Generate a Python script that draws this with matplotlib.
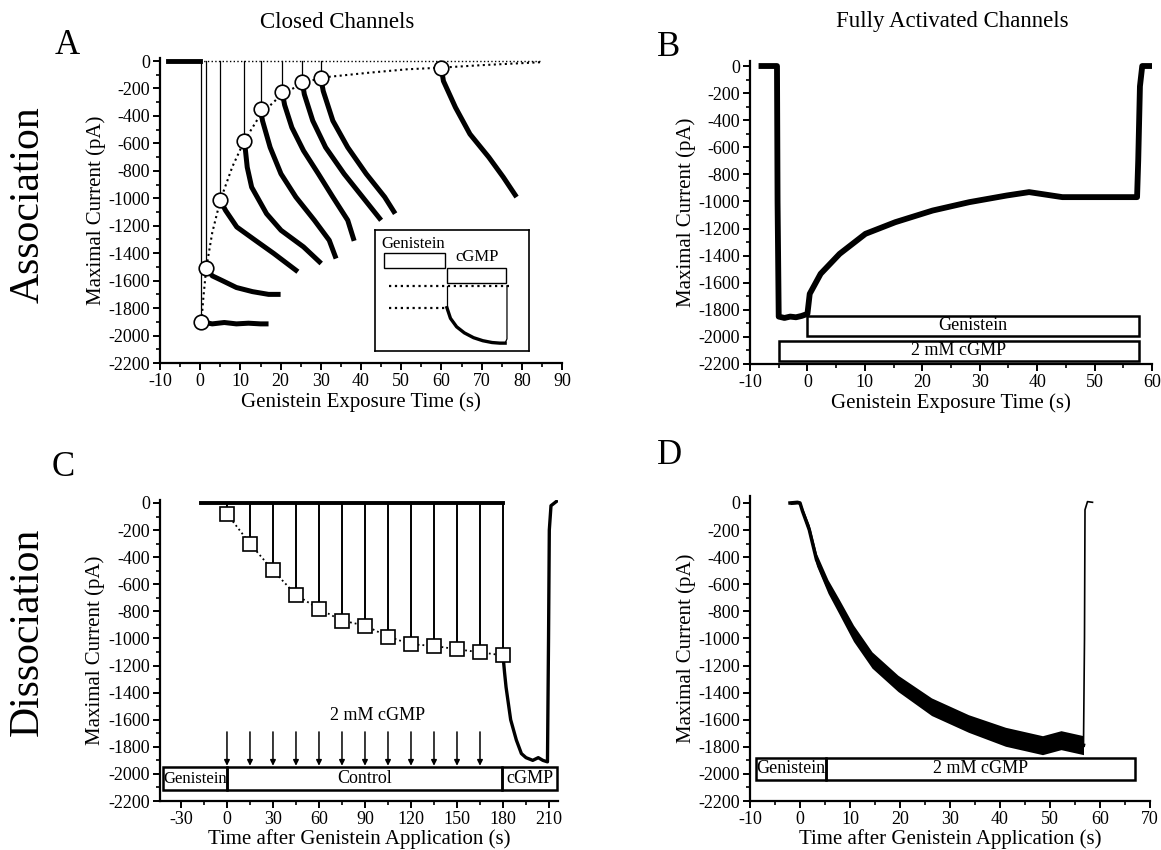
import matplotlib
matplotlib.use("Agg")
import matplotlib.pyplot as plt
from matplotlib.patches import Rectangle
from matplotlib.ticker import MultipleLocator

plt.rcParams['font.family'] = 'serif'
plt.rcParams['font.serif'] = ['Liberation Serif', 'DejaVu Serif']
plt.rcParams['axes.unicode_minus'] = False

W, H = 1161, 850

# ---- Panel A: closed channels, association ----
a_circle_t = [0.3, 1.5, 5, 11, 15, 20.4, 25.4, 30, 60]
a_circle_i = [-1900, -1510, -1015, -580, -350, -228, -152, -121, -53]
a_fit_t = [0.3, 0.8, 1.5, 3, 5, 8, 11, 15, 20.4, 25.4, 30, 42, 51.5, 60, 70, 85]
a_fit_i = [-1900, -1720, -1510, -1250, -1015, -770, -580, -390, -240, -165, -121, -85, -60, -48, -30, -8]
a_traces = [
    ([0.3, 3, 6, 9, 12, 15, 17], [-1900, -1915, -1905, -1915, -1910, -1915, -1915]),
    ([1.5, 3, 5.5, 9, 13, 17, 20], [-1510, -1565, -1600, -1650, -1680, -1700, -1700]),
    ([5, 6.3, 9.1, 13.7, 18.3, 24.3], [-1015, -1088, -1209, -1306, -1402, -1535]),
    ([11, 11.7, 12.8, 16.5, 20.1, 25.7, 30.1], [-580, -774, -919, -1112, -1233, -1354, -1475]),
    ([15, 15.5, 17.4, 20.1, 23.8, 28.4, 32.1, 33.8], [-350, -435, -629, -822, -991, -1160, -1306, -1439]),
    ([20.4, 21, 22.8, 25.7, 29.4, 33, 36.7, 38.3], [-228, -320, -484, -653, -822, -991, -1160, -1310]),
    ([25.4, 25.9, 28, 31.2, 35.8, 40.4, 45], [-152, -242, -435, -629, -822, -991, -1160]),
    ([30, 30.6, 33, 36.7, 41.3, 45.9, 48.5], [-121, -218, -435, -629, -822, -991, -1112]),
    ([60, 60.5, 63.5, 67.1, 71.8, 75.4, 78.7], [-53, -145, -338, -532, -701, -846, -991]),
]
a_base_t = [-8, 0]
a_base_i = [0, 0]
inset_curve_x = [0.467, 0.49, 0.53, 0.58, 0.64, 0.70, 0.76, 0.81, 0.845]
inset_curve_y = [0.358, 0.27, 0.20, 0.15, 0.11, 0.085, 0.07, 0.065, 0.065]

# ---- Panel B: fully activated channels ----
b_t = [-8, -5.3, -5.2, -5, -4, -3, -2, -1, 0, 0.4, 2.3, 5.6, 10.1, 15.3, 21.8,
       28.2, 34.7, 38.6, 44.4, 50.9, 57.4, 57.6, 57.9, 58.3, 60]
b_i = [0, 0, -1000, -1850, -1860, -1850, -1855, -1845, -1830, -1682, -1534, -1387,
       -1239, -1153, -1067, -1005, -956, -931, -968, -968, -968, -700, -150, 0, 0]

# ---- Panel C: dissociation, closed ----
c_sq_t = [0, 15, 30, 45, 60, 75, 90, 105, 120, 135, 150, 165, 180]
c_sq_i = [-80, -300, -498, -678, -782, -868, -905, -986, -1043, -1055, -1080, -1102, -1125]
c_base_t = [-17, 180]
c_base_i = [0, 0]
c_end_t = [180, 181, 182, 185, 188.7, 192, 195, 199.4, 203, 206, 209, 209.7, 210.2, 211.3, 214.9]
c_end_i = [-1125, -1250, -1360, -1600, -1750, -1850, -1880, -1900, -1880, -1900, -1911,
           -1000, -200, -20, 12]
c_arrow_t = [0, 15, 30, 45, 60, 75, 90, 105, 120, 135, 150, 165]

# ---- Panel D: dissociation, activated (mean trace and noise half-width) ----
d_t = [-2, -0.5, 0, 0.5, 1.85, 3.3, 5.6, 7.8, 10.7, 14.4, 19.6, 26.3, 33.7, 41.1,
       48.5, 52.2, 56.7]
d_i = [0, 5, 0, -60, -197, -419, -617, -764, -962, -1159, -1332, -1504, -1628,
       -1726, -1788, -1751, -1788]
d_noise = [12, 12, 12, 25, 35, 45, 50, 55, 60, 60, 60, 65, 65, 70, 70, 70, 70]
d_jump_t = [56.7, 56.9, 57.0, 57.5, 58.5]
d_jump_i = [-1788, -1000, -50, 10, 5]


def rect(x0, x1, ytop, ybot):
    return [x0 / W, 1 - ybot / H, (x1 - x0) / W, (ybot - ytop) / H]


def style(ax, xlim, ylim, xmaj, xmin):
    ax.set_xlim(*xlim)
    ax.set_ylim(*ylim)
    for s in ['top', 'right']:
        ax.spines[s].set_visible(False)
    for s in ['left', 'bottom']:
        ax.spines[s].set_linewidth(1.6)
    ax.xaxis.set_major_locator(MultipleLocator(xmaj))
    ax.xaxis.set_minor_locator(MultipleLocator(xmin))
    ax.yaxis.set_major_locator(MultipleLocator(200))
    ax.yaxis.set_minor_locator(MultipleLocator(100))
    ax.tick_params(which='major', direction='out', length=5, width=1.4, labelsize=13, pad=2)
    ax.tick_params(which='minor', direction='out', length=3, width=1.2)
    ax.set_ylabel('Maximal Current (pA)', fontsize=15, labelpad=2)


def box(ax, x0, x1, y0, y1, label, fs=12.5):
    ax.add_patch(Rectangle((x0, y0), x1 - x0, y1 - y0, fill=False, lw=1.8,
                           edgecolor='black', zorder=3, clip_on=False))
    ax.text((x0 + x1) / 2, (y0 + y1) / 2, label, ha='center', va='center',
            fontsize=fs, zorder=4)


fig = plt.figure(figsize=(W / 100, H / 100), dpi=100)

# Panel A
axA = fig.add_axes(rect(160, 562, 58.3, 363))
style(axA, (-10, 90), (-2200, 20), 10, 5)
axA.plot(a_base_t, a_base_i, color='black', lw=3.5)
axA.plot([0, 85], [0, 0], color='black', lw=1.0, ls=':')
for t, v in zip(a_circle_t, a_circle_i):
    axA.plot([t, t], [0, v], color='black', lw=0.9)
for tt, ii in a_traces:
    axA.plot(tt, ii, color='black', lw=3.6, solid_capstyle='butt')
axA.plot(a_fit_t, a_fit_i, color='black', lw=1.5, ls=':')
axA.plot(a_circle_t, a_circle_i, 'o', ms=10.5, mfc='white', mec='black', mew=1.2, zorder=5)
axA.set_xlabel('Genistein Exposure Time (s)', fontsize=15, labelpad=2)

ins = fig.add_axes(rect(375, 529, 230, 351))
ins.set_xlim(0, 1)
ins.set_ylim(0, 1)
ins.set_xticks([])
ins.set_yticks([])
for s in ins.spines.values():
    s.set_linewidth(1.2)
ins.add_patch(Rectangle((0.061, 0.69), 0.396, 0.12, fill=False, lw=1.0))
ins.add_patch(Rectangle((0.467, 0.561), 0.385, 0.123, fill=False, lw=1.0))
ins.text(0.25, 0.885, 'Genistein', ha='center', va='center', fontsize=12)
ins.text(0.66, 0.775, 'cGMP', ha='center', va='center', fontsize=12)
ins.plot([0.088, 0.877], [0.539, 0.539], color='black', lw=1.6, ls=':')
ins.plot([0.088, 0.467], [0.358, 0.358], color='black', lw=1.6, ls=':')
ins.plot([0.467, 0.467], [0.539, 0.358], color='black', lw=0.9)
ins.plot(inset_curve_x, inset_curve_y, color='black', lw=2.4)
ins.plot([0.845, 0.857, 0.857], [0.065, 0.10, 0.539], color='black', lw=0.9)

# Panel B
axB = fig.add_axes(rect(750, 1152, 60.6, 364))
style(axB, (-10, 60), (-2200, 40), 10, 5)
axB.plot(b_t, b_i, color='black', lw=4.2)
box(axB, 0, 57.7, -1990, -1842, 'Genistein', fs=13)
box(axB, -5, 57.7, -2175, -2027, '2 mM cGMP', fs=13)
axB.set_xlabel('Genistein Exposure Time (s)', fontsize=15, labelpad=2)

# Panel C
axC = fig.add_axes(rect(159.5, 558.2, 499.6, 801))
style(axC, (-44, 216), (-2200, 25), 30, 15)
axC.plot(c_base_t, c_base_i, color='black', lw=2.8)
for t, v in zip(c_sq_t, c_sq_i):
    axC.plot([t, t], [0, v], color='black', lw=1.4)
axC.plot(c_sq_t, c_sq_i, color='black', lw=1.3, ls=':')
axC.plot(c_end_t, c_end_i, color='black', lw=2.4)
axC.plot(c_sq_t, c_sq_i, 's', ms=10.5, mfc='white', mec='black', mew=1.2, zorder=5)
for t in c_arrow_t:
    axC.annotate('', xy=(t, -1940), xytext=(t, -1690),
                 arrowprops=dict(arrowstyle='-|>', color='black', lw=1.1,
                                 mutation_scale=8, shrinkA=0, shrinkB=0))
axC.text(98, -1566, '2 mM cGMP', ha='center', va='center', fontsize=13)
box(axC, -41.8, 0, -2121, -1948, 'Genistein', fs=12)
box(axC, 0, 179.5, -2121, -1948, 'Control', fs=13)
box(axC, 179.5, 215, -2121, -1948, 'cGMP', fs=13)
axC.set_xlabel('Time after Genistein Application (s)', fontsize=15, labelpad=1)

# Panel D
axD = fig.add_axes(rect(750, 1150, 496.2, 801))
style(axD, (-10, 70), (-2200, 50), 10, 5)
d_lo = [v - n for v, n in zip(d_i, d_noise)]
d_hi = [v + n for v, n in zip(d_i, d_noise)]
axD.fill_between(d_t, d_lo, d_hi, color='black', lw=0)
axD.plot(d_t, d_i, color='black', lw=2.5)
axD.plot(d_jump_t, d_jump_i, color='black', lw=1.2)
box(axD, -8.8, 5.2, -2047, -1879, 'Genistein', fs=13)
box(axD, 5.2, 67, -2047, -1879, '2 mM cGMP', fs=13)
axD.set_xlabel('Time after Genistein Application (s)', fontsize=15, labelpad=1)

# figure texts
def ftext(x, y, s, **kw):
    fig.text(x / W, 1 - y / H, s, ha='center', va='center', **kw)

ftext(337, 22, 'Closed Channels', fontsize=16.5)
ftext(952, 22, 'Fully Activated Channels', fontsize=16.5)
ftext(67, 45, 'A', fontsize=25)
ftext(669, 47, 'B', fontsize=25)
ftext(63, 467, 'C', fontsize=25)
ftext(669, 455, 'D', fontsize=25)
ftext(28, 205, 'Association', fontsize=30, rotation=90)
ftext(28, 632, 'Dissociation', fontsize=30, rotation=90)

fig.savefig('out.png', dpi=100)
